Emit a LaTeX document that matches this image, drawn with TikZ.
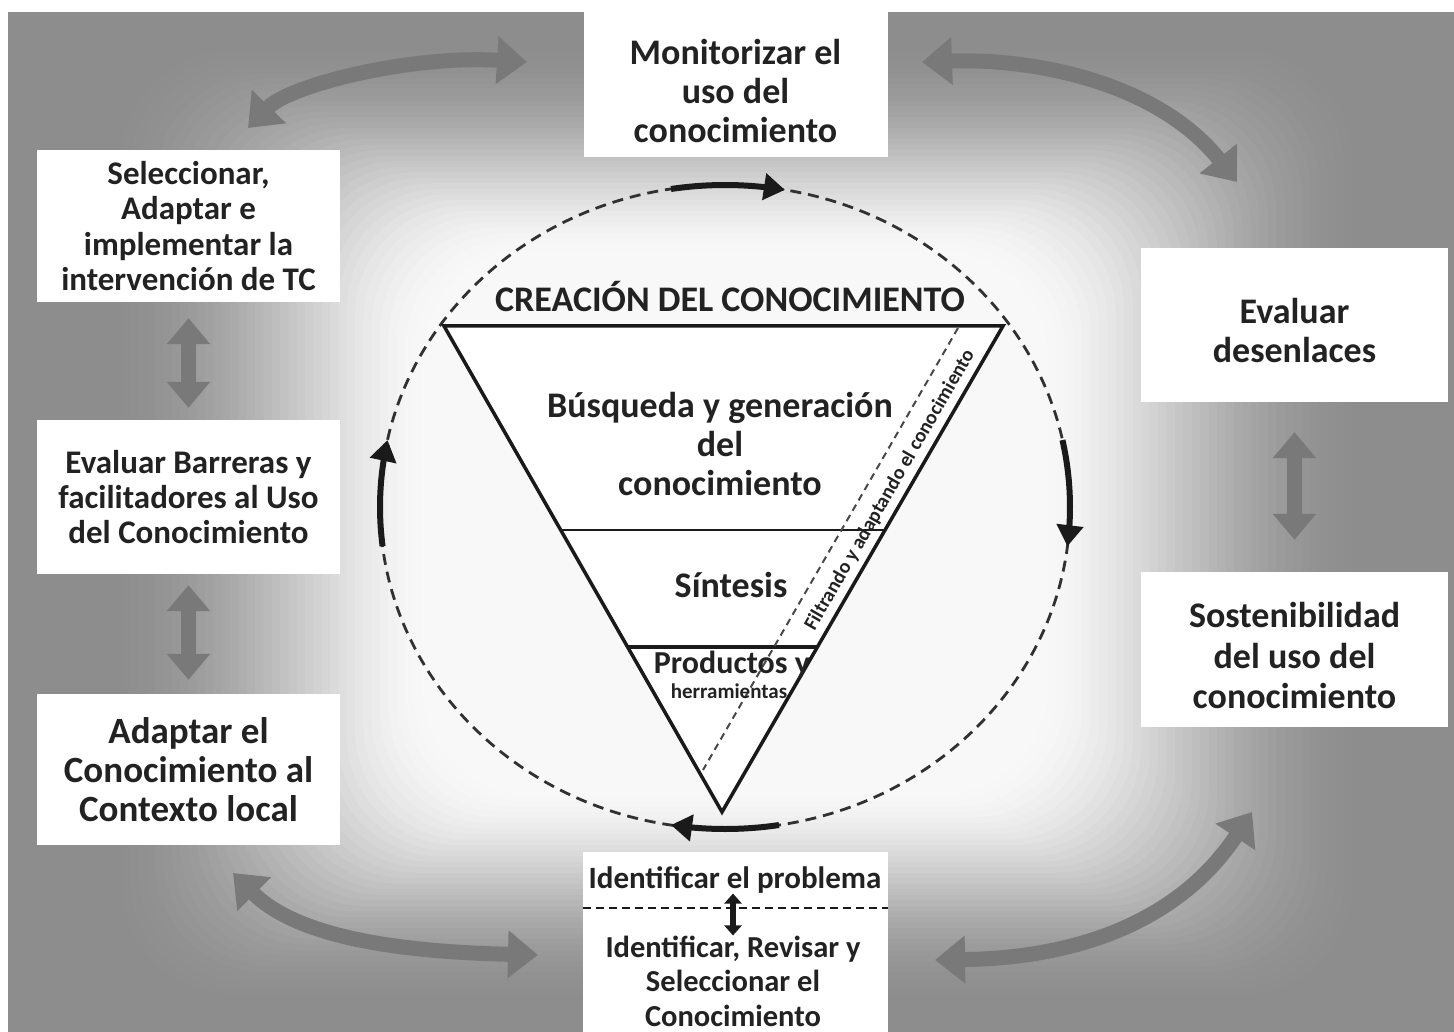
\documentclass[tikz,border=0pt]{standalone}
\usepackage{fontspec}
\setmainfont{Carlito}
\usetikzlibrary{arrows.meta,calc}
\definecolor{bggray}{HTML}{8D8D8D}
\definecolor{arrgray}{HTML}{797979}
\definecolor{txt}{HTML}{222222}
\definecolor{lin}{HTML}{1A1A1A}
\newcommand\setfs[2]{\fontsize{#1}{#2}\selectfont\bfseries}
\begin{document}
\begin{tikzpicture}[x=1pt,y=-1pt,
  box/.style={fill=white, align=center, inner sep=0pt, minimum width=304pt, text=txt},
  lbl/.style={align=center, inner sep=0pt, text=txt},
  grayarr/.style={draw=arrgray, line width=15pt, {Triangle[length=30pt,width=46pt]}-{Triangle[length=30pt,width=46pt]}},
  vgray/.style={draw=arrgray, line width=15pt, {Triangle[length=26pt,width=42pt]}-{Triangle[length=26pt,width=42pt]}},
  blk/.style={draw=lin, line width=6pt, -{Triangle[length=21pt,width=26pt]}},
  circdash/.style={draw=lin!90!white, line width=2.8pt, dash pattern=on 11pt off 7pt}
]
\useasboundingbox (0,0) rectangle (1454,1032);
\fill[white] (0,0) rectangle (1454,1032);
\fill[bggray] (8,12) rectangle (1454,1032);
\begin{scope}
\clip (8,12) rectangle (1454,1032);
\foreach \k in {1,...,48}{
  \pgfmathsetmacro\pp{\k/48}
  \pgfmathsetmacro\qa{((\k-1)/48)^1.35}
  \pgfmathsetmacro\qb{(\k/48)^1.35}
  \pgfmathsetmacro\wa{0.97*(3*\qa*\qa-2*\qa*\qa*\qa)}
  \pgfmathsetmacro\wb{0.97*(3*\qb*\qb-2*\qb*\qb*\qb)}
  \pgfmathsetmacro\al{(\wb-\wa)/(1-\wa)}
  \fill[white, fill opacity=\al, rounded corners=110pt]
    ({30+\pp*400},{-10+\pp*265}) rectangle ({1445-\pp*405},{1055-\pp*265});
}
\end{scope}

% boxes
\node[box, minimum height=157pt] (mon) at (735.5,78.5) {};
\node[lbl, font=\setfs{36}{39}] (monT) at (735.5,91) {Monitorizar el\\uso del\\conocimiento};
\node[box, minimum width=303pt, minimum height=152pt, font=\setfs{33}{35.5}] (sel) at (188.5,226) {Seleccionar,\\Adaptar e\\implementar la\\intervención de TC};
\node[box, minimum width=303pt, minimum height=154pt, font=\setfs{33}{35}] (bar) at (188.5,497) {Evaluar Barreras y\\facilitadores al Uso\\del Conocimiento};
\node[box, minimum width=303pt, minimum height=151pt, font=\setfs{37}{39}] (adap) at (188.5,769.5) {Adaptar el\\Conocimiento al\\Contexto local};
\node[box, minimum width=307pt, minimum height=154pt] (eval) at (1294.5,325) {};
\node[lbl, font=\setfs{36}{39}] (evalT) at (1294.5,331) {Evaluar\\desenlaces};
\node[box, minimum width=307pt, minimum height=155pt] (sost) at (1294.5,649.5) {};
\node[lbl, font=\setfs{36}{40.5}] (sostT) at (1294.5,655.5) {Sostenibilidad\\del uso del\\conocimiento};
\node[box, minimum width=305pt, minimum height=180pt] (idbox) at (735.5,942) {};
\node[lbl, font=\setfs{31}{35}] (prob) at (735,880) {Identificar el problema};
\node[lbl, font=\setfs{30.5}{34.5}] (selk) at (733,981) {Identificar, Revisar y\\Seleccionar el\\Conocimiento};
\draw[draw=lin, line width=1.6pt, dash pattern=on 8pt off 5pt] ($(idbox.west)+(0,-34)$) -- ($(idbox.east)+(0,-34)$);
\draw[draw=lin, line width=6pt, {Triangle[length=10pt,width=17pt]}-{Triangle[length=10pt,width=17pt]}] (prob.south -| selk.north) -- (selk.north);

% gray double arrows
\coordinate (tl1) at (248,128);
\coordinate (tl2) at (527,62);
\coordinate (tr1) at (922,62);
\coordinate (tr2) at (1237,182);
\coordinate (bl1) at (233,873);
\coordinate (bl2) at (538,955);
\coordinate (br1) at (935,960);
\coordinate (br2) at (1252,812);
\draw[grayarr] (tl1) .. controls (290,85) and (410,55) .. (tl2);
\draw[grayarr] (tr1) .. controls (1040,58) and (1160,85) .. (tr2);
\draw[grayarr] (bl1) .. controls (300,940) and (410,952) .. (bl2);
\draw[grayarr] (br1) .. controls (1080,958) and (1180,920) .. (br2);
\draw[vgray] (sel.south) ++(0,16) -- ($(bar.north)+(0,-12)$);
\draw[vgray] (bar.south) ++(0,11) -- ($(adap.north)+(0,-14)$);
\draw[vgray] (eval.south) ++(0,30) -- ($(sost.north)+(0,-32)$);

% circle
\draw[circdash] (725,507) ellipse [x radius=345, y radius=322];
\draw[blk] plot[domain=261:280, samples=25, variable=\t] ({725+345*cos(\t)},{507+322*sin(\t)});
\draw[blk] plot[domain=-12:7, samples=25, variable=\t] ({725+345*cos(\t)},{507+322*sin(\t)});
\draw[blk] plot[domain=81:99, samples=25, variable=\t] ({725+345*cos(\t)},{507+322*sin(\t)});
\draw[blk] plot[domain=173:192, samples=25, variable=\t] ({725+345*cos(\t)},{507+322*sin(\t)});

% triangle
\coordinate (tA) at (444,326);
\coordinate (tB) at (1003,326);
\coordinate (tC) at (722,812);
\draw[draw=lin, fill=white, line width=3.5pt, line join=miter] (tA) -- (tB) -- (tC) -- cycle;
\draw[draw=lin, line width=2.2pt] ($(tA)!0.42!(tC)$) -- ($(tB)!0.42!(tC)$);
\draw[draw=lin, line width=3.8pt] ($(tA)!0.6605!(tC)$) -- ($(tB)!0.6605!(tC)$);
\coordinate (dA) at (958,328);
\coordinate (dB) at (703,770);
\draw[draw=lin!80!white, line width=2pt, dash pattern=on 7pt off 5pt] (dA) -- (dB);

\node[lbl, font=\setfs{36}{39}] (crea) at (730,297) {CREACIÓN DEL CONOCIMIENTO};
\node[lbl, font=\setfs{36}{39}] (busq) at (720,444) {Búsqueda y generación\\del\\conocimiento};
\node[lbl, font=\setfs{36}{39}] (sint) at (731,585) {Síntesis};
\node[lbl, font=\setfs{32}{34}] (prod) at (732,665) {Productos y};
\node[lbl, font=\setfs{21}{22}] (herr) at (729,691) {herramientas};
\node[lbl, rotate=60, font=\setfs{20}{22}] (filt) at (890,490) {Filtrando y adaptando el conocimiento};
\end{tikzpicture}
\end{document}
